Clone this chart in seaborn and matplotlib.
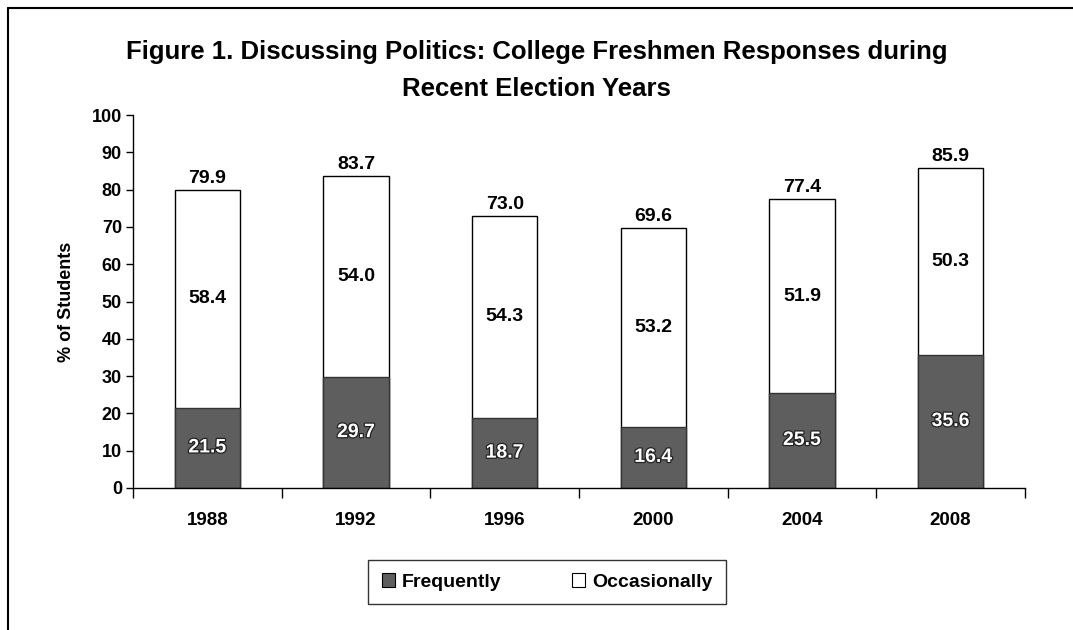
import matplotlib
matplotlib.use('Agg')
import matplotlib.pyplot as plt
import seaborn as sns
import pandas as pd
from matplotlib.patches import Patch
from matplotlib.lines import Line2D
import matplotlib.patheffects as pe

years = ['1988', '1992', '1996', '2000', '2004', '2008']
frequently = [21.5, 29.7, 18.7, 16.4, 25.5, 35.6]
occasionally = [58.4, 54.0, 54.3, 53.2, 51.9, 50.3]
totals = [79.9, 83.7, 73.0, 69.6, 77.4, 85.9]
series_names = ['Frequently', 'Occasionally']

sns.set_style('white')
plt.rcParams['font.family'] = ['Liberation Sans', 'DejaVu Sans']
plt.rcParams['text.color'] = 'black'
plt.rcParams['axes.labelcolor'] = 'black'
plt.rcParams['xtick.color'] = 'black'
plt.rcParams['ytick.color'] = 'black'

W, H = 1073, 630
fig = plt.figure(figsize=(W / 100, H / 100), dpi=100)
ax = fig.add_axes([133 / W, 1 - 488 / H, (1025 - 133) / W, (488 - 115) / H])

df = pd.DataFrame({'year': years, 'freq': frequently, 'occ': occasionally, 'total': totals})
dark = '#5e5e5e'
sns.barplot(data=df, x='year', y='total', color='white', edgecolor='black',
            linewidth=1.0, width=0.44, saturation=1, ax=ax)
sns.barplot(data=df, x='year', y='freq', color=dark, edgecolor='#333333',
            linewidth=1.0, width=0.44, saturation=1, ax=ax)

lab_fs = 14
for i in range(len(years)):
    ax.text(i, totals[i] + 0.8, f'{totals[i]:.1f}', ha='center', va='bottom',
            fontsize=lab_fs, fontweight='bold', color='black')
    ax.text(i, frequently[i] + occasionally[i] / 2, f'{occasionally[i]:.1f}', ha='center',
            va='center', fontsize=lab_fs, fontweight='bold', color='black')
    ax.text(i, frequently[i] / 2, f'{frequently[i]:.1f}', ha='center', va='center',
            fontsize=lab_fs, fontweight='bold', color='white',
            path_effects=[pe.withStroke(linewidth=1.8, foreground='#222222')])

ax.set_ylim(0, 100)
ax.set_xlim(-0.5, len(years) - 0.5)
ax.set_yticks(range(0, 101, 10))
ax.set_xlabel('')
ax.set_ylabel('% of Students', fontsize=13, fontweight='bold', labelpad=12)
for s in ['top', 'right']:
    ax.spines[s].set_visible(False)
for s in ['left', 'bottom']:
    ax.spines[s].set_color('black')
    ax.spines[s].set_linewidth(1.0)
ax.tick_params(axis='y', which='major', direction='out', length=5, width=1,
               color='black', labelsize=13, pad=3, left=True)
ax.tick_params(axis='x', which='major', length=0, labelsize=13.5, pad=17)
ax.set_xticks([i - 0.5 for i in range(len(years) + 1)], minor=True)
ax.tick_params(axis='x', which='minor', direction='out', length=7, width=1,
               color='black', bottom=True)
for lab in ax.get_xticklabels() + ax.get_yticklabels():
    lab.set_fontweight('bold')

fig.text(0.5, 1 - 52 / H, 'Figure 1. Discussing Politics: College Freshmen Responses during',
         ha='center', va='center', fontsize=18.5, fontweight='bold')
fig.text(0.5, 1 - 89 / H, 'Recent Election Years',
         ha='center', va='center', fontsize=18.5, fontweight='bold')

handles = [Patch(facecolor=dark, edgecolor='black', linewidth=0.8),
           Patch(facecolor='white', edgecolor='black', linewidth=0.8)]
leg = fig.legend(handles, series_names, loc='center', bbox_to_anchor=(547 / W, 1 - 582 / H),
                 ncol=2, frameon=True, fancybox=False, edgecolor='black',
                 handlelength=0.7, handleheight=0.7, handletextpad=0.35,
                 columnspacing=3.6, borderpad=0.7, prop={'weight': 'bold', 'size': 14})
leg.get_frame().set_linewidth(1.0)

fig.add_artist(Line2D([8 / W, 8 / W], [0, 1 - 8 / H], color='black', lw=1.5))
fig.add_artist(Line2D([8 / W, 1], [1 - 8 / H, 1 - 8 / H], color='black', lw=1.5))

fig.savefig('out.png', dpi=100)
